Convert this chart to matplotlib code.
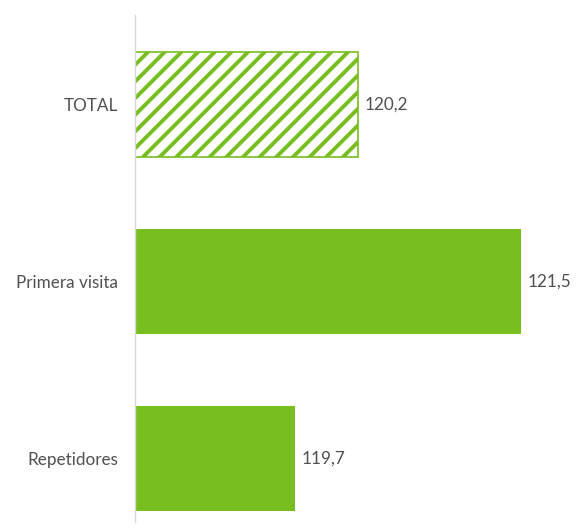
import matplotlib
matplotlib.use("Agg")
import matplotlib.pyplot as plt

categories = ["TOTAL", "Primera visita", "Repetidores"]
values = [120.2, 121.5, 119.7]
value_labels = ["120,2", "121,5", "119,7"]
hatched = [True, False, False]

GREEN = "#78BE20"
plt.rcParams["font.family"] = ["Lato", "DejaVu Sans"]
plt.rcParams["hatch.linewidth"] = 2.8
plt.rcParams["hatch.color"] = GREEN

fig = plt.figure(figsize=(5.79, 5.28), dpi=100)
ax = fig.add_axes([135/579, 6/528, 425/579, 507/528])
xmin = 118.42
ax.set_xlim(xmin, 121.81)
ax.set_ylim(2.36, -0.506)

for i, (v, h) in enumerate(zip(values, hatched)):
    if h:
        ax.barh(i, v - xmin, left=xmin, height=0.593, color="white",
                edgecolor=GREEN, hatch="//", linewidth=1.2)
    else:
        ax.barh(i, v - xmin, left=xmin, height=0.593, color=GREEN,
                edgecolor=GREEN, linewidth=0)
    ax.annotate(value_labels[i], xy=(v, i), xytext=(4.5, 0), textcoords="offset points",
                va="center", ha="left", fontsize=12.3, color="#505050")

ax.set_yticks(range(len(categories)))
ax.set_yticklabels(categories, fontsize=12.3, color="#505050")
ax.tick_params(axis="y", length=0, pad=12)
ax.set_xticks([])
for s in ["top", "right", "bottom"]:
    ax.spines[s].set_visible(False)
ax.spines["left"].set_color("#d9d9d9")
ax.spines["left"].set_linewidth(1.0)

fig.savefig("out.png", dpi=100)
